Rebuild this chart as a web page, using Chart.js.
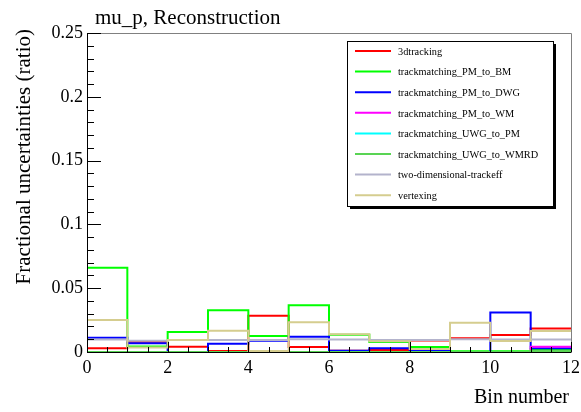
<!DOCTYPE html>
<html>
<head>
<meta charset="utf-8">
<script src="https://cdn.jsdelivr.net/npm/chart.js@4.4.1/dist/chart.umd.min.js"></script>
<style>
  html, body { margin: 0; padding: 0; background: #fff; }
  #wrap { width: 581px; height: 412px; }
</style>
</head>
<body>
<div id="wrap"><canvas id="c" width="581" height="412"></canvas></div>
<script>
// bin edges 0..12, one value per bin
const binEdges = [0, 1, 2, 3, 4, 5, 6, 7, 8, 9, 10, 11, 12];

const names = [
    '3dtracking',
    'trackmatching_PM_to_BM',
    'trackmatching_PM_to_DWG',
    'trackmatching_PM_to_WM',
    'trackmatching_UWG_to_PM',
    'trackmatching_UWG_to_WMRD',
    'two-dimensional-trackeff',
    'vertexing'
];

const tracking3d  = [0.0029, 0.0081, 0.0042, 0.0008, 0.0285, 0.0039, 0.0010, 0.0016, 0.0091, 0.0107, 0.0133, 0.0185];
const pmToBm      = [0.0660, 0.0044, 0.0157, 0.0327, 0.0125, 0.0366, 0.0136, 0.0078, 0.0039, 0.0005, 0.0006, 0.0019];
const pmToDwg     = [0.0112, 0.0068, 0.0000, 0.0065, 0.0089, 0.0120, 0.0010, 0.0029, 0.0008, 0.0000, 0.0310, 0.0030];
const pmToWm      = [0.0000, 0.0000, 0.0000, 0.0000, 0.0000, 0.0000, 0.0000, 0.0000, 0.0000, 0.0000, 0.0000, 0.0042];
const uwgToPm     = [0.0000, 0.0000, 0.0000, 0.0000, 0.0000, 0.0000, 0.0000, 0.0000, 0.0000, 0.0000, 0.0000, 0.0000];
const uwgToWmrd   = [0.0000, 0.0000, 0.0000, 0.0000, 0.0000, 0.0000, 0.0000, 0.0000, 0.0000, 0.0000, 0.0000, 0.0008];
const twoDimTrack = [0.0097, 0.0089, 0.0094, 0.0094, 0.0094, 0.0099, 0.0097, 0.0094, 0.0094, 0.0099, 0.0097, 0.0097];
const vertexing   = [0.0250, 0.0035, 0.0094, 0.0167, 0.0008, 0.0233, 0.0139, 0.0084, 0.0023, 0.0230, 0.0086, 0.0164];

const yTicks = [0, 0.05, 0.1, 0.15, 0.2, 0.25];
const xTicks = [0, 2, 4, 6, 8, 10, 12];

const seriesVals = [tracking3d, pmToBm, pmToDwg, pmToWm, uwgToPm, uwgToWmrd, twoDimTrack, vertexing];
const colors = ['#ff0000', '#00ff00', '#0000ff', '#ff00ff', '#00ffff', '#59d454', '#b3b3cc', '#d5cd8f'];

const SERIF = '"Liberation Serif", "DejaVu Serif", serif';

// histogram outline: one point per bin low edge, plus the last edge
function toSteps(vals) {
    const pts = vals.map((v, i) => ({ x: binEdges[i], y: v }));
    pts.push({ x: binEdges[binEdges.length - 1], y: vals[vals.length - 1] });
    return pts;
}

const datasets = seriesVals.map((vals, i) => ({
    label: names[i],
    data: toSteps(vals),
    borderColor: colors[i],
    backgroundColor: colors[i],
    borderWidth: 2,
    pointRadius: 0,
    stepped: true,
    tension: 0,
    clip: 4,
    order: seriesVals.length - i
}));

// frame, inward ticks, titles and the ROOT-like legend box
const rootDecor = {
    id: 'rootDecor',
    afterDraw(chart) {
        const ctx = chart.ctx;
        const xs = chart.scales.x, ys = chart.scales.y;
        const L = xs.left, R = xs.right, T = ys.top, B = ys.bottom;
        ctx.save();

        // top / right frame
        ctx.strokeStyle = '#808080';
        ctx.lineWidth = 1;
        ctx.beginPath();
        ctx.moveTo(L, T + 0.5); ctx.lineTo(R + 0.5, T + 0.5); ctx.lineTo(R + 0.5, B);
        ctx.stroke();

        // axes
        ctx.strokeStyle = '#000';
        ctx.beginPath();
        ctx.moveTo(L + 0.5, T); ctx.lineTo(L + 0.5, B + 0.5); ctx.lineTo(R + 0.5, B + 0.5);
        ctx.stroke();

        // y ticks: major every 0.05, minor every 0.01
        ctx.beginPath();
        for (let k = 0; k <= 25; k++) {
            const py = Math.round(ys.getPixelForValue(k * 0.01)) + 0.5;
            const len = (k % 5 === 0) ? 14 : 7;
            ctx.moveTo(L, py); ctx.lineTo(L + len, py);
        }
        // x ticks: major every 2, minor every 0.5
        for (let k = 0; k <= 24; k++) {
            const px = Math.round(xs.getPixelForValue(k * 0.5)) + 0.5;
            const len = (k % 4 === 0) ? 10 : 5;
            ctx.moveTo(px, B); ctx.lineTo(px, B - len);
        }
        ctx.stroke();

        // titles
        ctx.fillStyle = '#000';
        ctx.font = '21px ' + SERIF;
        ctx.textAlign = 'left';
        ctx.textBaseline = 'alphabetic';
        ctx.fillText('mu_p, Reconstruction', 95, 24);

        ctx.font = '20px ' + SERIF;
        ctx.textAlign = 'right';
        ctx.fillText('Bin number', 569, 403);

        ctx.save();
        ctx.translate(30, 29);
        ctx.rotate(-Math.PI / 2);
        ctx.font = '21px ' + SERIF;
        ctx.textAlign = 'right';
        ctx.fillText('Fractional uncertainties (ratio)', 0, 0);
        ctx.restore();

        // legend
        const bx = 347, by = 41, bw = 206, bh = 165;
        ctx.fillStyle = '#000';
        ctx.fillRect(bx + 3, by + 3, bw, bh);
        ctx.fillStyle = '#fff';
        ctx.fillRect(bx, by, bw, bh);
        ctx.strokeStyle = '#000';
        ctx.lineWidth = 1;
        ctx.strokeRect(bx + 0.5, by + 0.5, bw, bh);

        ctx.font = '10.3px ' + SERIF;
        ctx.textAlign = 'left';
        ctx.textBaseline = 'middle';
        chart.data.datasets.forEach((ds, i) => {
            const ey = 51 + i * 20.6;
            ctx.strokeStyle = ds.borderColor;
            ctx.lineWidth = 2;
            ctx.beginPath();
            ctx.moveTo(355, ey); ctx.lineTo(391, ey);
            ctx.stroke();
            ctx.fillStyle = '#000';
            ctx.fillText(ds.label, 398, ey + 1);
        });

        ctx.restore();
    }
};

new Chart(document.getElementById('c'), {
    type: 'line',
    data: { datasets: datasets },
    options: {
        responsive: false,
        animation: false,
        layout: { padding: { top: 33, right: 10, left: 0, bottom: 0 } },
        plugins: { legend: { display: false }, tooltip: { enabled: false } },
        scales: {
            x: {
                type: 'linear',
                min: 0,
                max: 12,
                grid: { display: false, drawTicks: false },
                border: { display: false },
                afterBuildTicks: (scale) => { scale.ticks = xTicks.map(v => ({ value: v })); },
                afterFit: (scale) => {
                    scale.height = 60;
                    scale.paddingLeft = 0;
                    scale.paddingRight = 0;
                },
                ticks: {
                    color: '#000',
                    padding: 5,
                    maxRotation: 0,
                    font: { family: SERIF, size: 18 },
                    callback: (v) => String(v)
                }
            },
            y: {
                type: 'linear',
                min: 0,
                max: 0.25,
                grid: { display: false, drawTicks: false },
                border: { display: false },
                afterBuildTicks: (scale) => { scale.ticks = yTicks.map(v => ({ value: v })); },
                afterFit: (scale) => {
                    scale.width = 87;
                    scale.paddingTop = 0;
                    scale.paddingBottom = 0;
                },
                ticks: {
                    color: '#000',
                    padding: 4,
                    font: { family: SERIF, size: 18 },
                    callback: (v) => v === 0 ? '0' : String(+v.toFixed(2))
                }
            }
        }
    },
    plugins: [rootDecor]
});
</script>
</body>
</html>
